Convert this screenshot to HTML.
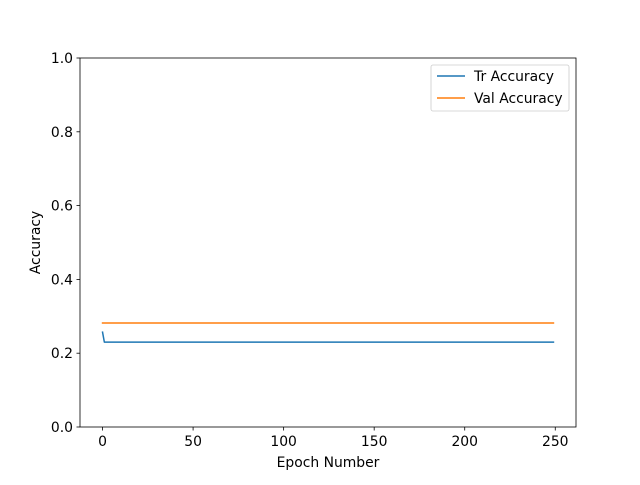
<!DOCTYPE html>
<html><head><meta charset="utf-8"><style>
body{margin:0;background:#fff;}
svg text{font-family:"DejaVu Sans","Liberation Sans",sans-serif;font-size:13.9px;fill:#000;}
</style></head><body>
<svg id="chart" width="640" height="480">
<rect x="0" y="0" width="640" height="480" fill="#fff"/>
<g id="plot"></g>
</svg>
<script>
const trEpochs = [0, 1, 249];
const trAccuracy = [0.257, 0.230, 0.230];
const valEpochs = [0, 249];
const valAccuracy = [0.282, 0.282];
const xTicks = [0, 50, 100, 150, 200, 250];
const yTicks = [0.0, 0.2, 0.4, 0.6, 0.8, 1.0];
const yTickLabels = ["0.0", "0.2", "0.4", "0.6", "0.8", "1.0"];

const L=80, R=576, T=58, B=427;
const xmin=-12.45, xmax=261.45, ymin=0, ymax=1;
const sx = v => L + (v - xmin) / (xmax - xmin) * (R - L);
const sy = v => B - (v - ymin) / (ymax - ymin) * (B - T);
const NS = "http://www.w3.org/2000/svg";
const g = document.getElementById('plot');
function mk(tag, attrs, parent){ const e=document.createElementNS(NS,tag); for(const k in attrs) e.setAttribute(k,attrs[k]); (parent||g).appendChild(e); return e; }

function line(xs, ys, color, name){
  const p = mk('polyline',{points: xs.map((x,i)=>sx(x)+','+sy(ys[i])).join(' '), fill:'none', stroke:color, 'stroke-width':1.5, 'stroke-linejoin':'round','stroke-linecap':'square'});
  
  
}
line(trEpochs, trAccuracy, '#1f77b4', 'tr-accuracy-line');
line(valEpochs, valAccuracy, '#ff7f0e', 'val-accuracy-line');

const frame = mk('rect',{x:L,y:T,width:R-L,height:B-T,fill:'none',stroke:'#000','stroke-width':0.8});



xTicks.forEach(v=>{
  const x=sx(v);
  mk('line',{x1:x,x2:x,y1:B,y2:B+3.5,stroke:'#000','stroke-width':0.8});
  const t=mk('text',{x:x,y:B+19,'text-anchor':'middle'}); t.textContent=v;
  
  
});
yTicks.forEach((v,i)=>{
  const y=sy(v);
  mk('line',{x1:L-3.5,x2:L,y1:y,y2:y,stroke:'#000','stroke-width':0.8});
  const t=mk('text',{x:L-7,y:y+5,'text-anchor':'end'}); t.textContent=yTickLabels[i];
  
  
});
const xt=mk('text',{x:(L+R)/2,y:467,'text-anchor':'middle'}); xt.textContent='Epoch Number';


const yt=mk('text',{x:0,y:0,'text-anchor':'middle',transform:'translate(40,'+((T+B)/2)+') rotate(-90)'}); yt.textContent='Accuracy';



const lg=mk('g',{});


mk('rect',{x:431,y:65,width:138,height:46,rx:2,fill:'#fff',stroke:'#ccc','stroke-width':0.8},lg);
[['Tr Accuracy','#1f77b4',76],['Val Accuracy','#ff7f0e',98]].forEach(([lab,c,y])=>{
  const e=mk('g',{},lg);
  
  
  mk('line',{x1:437,x2:465,y1:y,y2:y,stroke:c,'stroke-width':1.5},e);
  const t=mk('text',{x:474,y:y+5},e); t.textContent=lab;
});
</script>
</body></html>
